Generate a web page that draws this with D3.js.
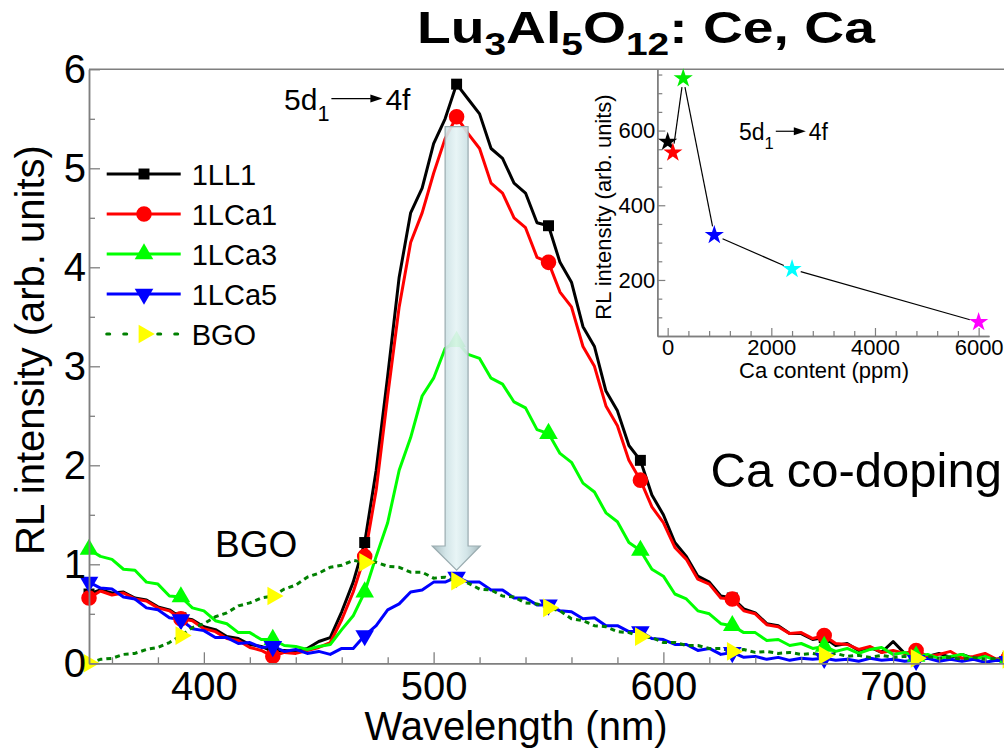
<!DOCTYPE html>
<html>
<head>
<meta charset="utf-8">
<script src="https://cdn.jsdelivr.net/npm/d3@7"></script>
<style>
  body { margin: 0; background: #fff; }
  svg { display: block; font-family: "Liberation Sans", Arial, sans-serif; }
</style>
</head>
<body>
<div id="scene"></div>
<script>
// wavelength grid (nm) for all spectra
const wavelength = d3.range(350, 751, 5);

const ll1 = [0.70,0.74,0.71,0.72,0.66,0.64,0.57,0.54,0.46,0.44,0.37,0.34,0.27,0.25,0.19,0.17,0.12,0.13,0.12,0.15,
  0.22,0.26,0.52,0.82,1.22,1.95,2.90,3.90,4.55,4.80,5.25,5.50,5.85,5.70,5.55,5.20,5.10,4.85,4.75,4.45,
  4.42,4.05,3.85,3.40,3.20,2.75,2.55,2.20,2.05,1.70,1.50,1.22,1.08,0.88,0.82,0.68,0.66,0.55,0.51,0.40,
  0.38,0.30,0.30,0.24,0.26,0.18,0.20,0.13,0.16,0.11,0.22,0.10,0.12,0.07,0.10,0.06,0.09,0.05,0.08,0.04,0.06];

const lca1 = [0.66,0.73,0.69,0.71,0.65,0.63,0.56,0.53,0.45,0.43,0.35,0.32,0.25,0.23,0.16,0.13,0.07,0.11,0.10,0.13,
  0.16,0.21,0.44,0.72,1.08,1.75,2.70,3.60,4.25,4.55,4.95,5.30,5.52,5.35,5.20,4.85,4.75,4.50,4.40,4.10,
  4.05,3.75,3.60,3.20,3.00,2.60,2.40,2.05,1.85,1.58,1.42,1.17,1.05,0.85,0.80,0.66,0.65,0.53,0.50,0.39,
  0.37,0.30,0.31,0.25,0.28,0.20,0.19,0.14,0.17,0.11,0.13,0.10,0.13,0.07,0.09,0.12,0.05,0.07,0.10,0.04,0.05];

const lca3 = [1.15,1.08,1.05,0.95,0.94,0.82,0.80,0.68,0.67,0.56,0.53,0.43,0.40,0.31,0.31,0.24,0.24,0.18,0.17,0.14,
  0.17,0.19,0.34,0.48,0.72,1.08,1.42,1.95,2.28,2.70,2.88,3.18,3.25,3.12,3.08,2.88,2.82,2.64,2.58,2.36,
  2.32,2.12,2.03,1.82,1.73,1.52,1.43,1.22,1.14,0.95,0.88,0.70,0.65,0.53,0.50,0.40,0.38,0.31,0.31,0.23,
  0.24,0.18,0.20,0.15,0.17,0.12,0.15,0.10,0.14,0.16,0.09,0.11,0.07,0.09,0.05,0.07,0.09,0.04,0.07,0.03,0.05];

const lca5 = [0.82,0.76,0.75,0.67,0.65,0.56,0.54,0.46,0.44,0.35,0.33,0.26,0.26,0.20,0.21,0.16,0.17,0.12,0.14,0.10,
  0.12,0.09,0.15,0.15,0.28,0.38,0.54,0.60,0.72,0.74,0.82,0.82,0.87,0.82,0.82,0.74,0.74,0.66,0.66,0.59,
  0.59,0.53,0.52,0.45,0.46,0.38,0.38,0.32,0.32,0.25,0.24,0.19,0.19,0.13,0.15,0.09,0.11,0.06,0.07,0.04,
  0.06,0.03,0.05,0.04,0.05,0.03,0.04,0.02,0.05,0.03,0.04,0.02,0.03,0.05,0.02,0.04,0.02,0.04,0.01,0.03,0.02];

const bgo = [0.00,0.04,0.05,0.09,0.10,0.14,0.16,0.21,0.28,0.36,0.40,0.47,0.51,0.58,0.61,0.66,0.68,0.75,0.79,0.87,
  0.91,0.97,0.99,1.04,1.02,1.02,0.98,0.97,0.92,0.92,0.86,0.87,0.83,0.81,0.75,0.74,0.68,0.67,0.61,0.60,
  0.56,0.53,0.45,0.43,0.38,0.37,0.32,0.31,0.27,0.26,0.21,0.21,0.18,0.18,0.15,0.15,0.12,0.14,0.11,0.12,
  0.10,0.11,0.09,0.10,0.08,0.10,0.07,0.08,0.06,0.08,0.06,0.07,0.05,0.07,0.05,0.06,0.04,0.06,0.04,0.05,0.04];

const seriesNames = ["1LL1", "1LCa1", "1LCa3", "1LCa5", "BGO"];
const seriesValues = [ll1, lca1, lca3, lca5, bgo];

// inset: peak intensity vs Ca content
const caContent = [0, 100, 300, 900, 2400, 6000];
const caIntensity = [570, 541, 740, 320, 229, 87];
const caColors = ["#000000", "#ff0000", "#00ee00", "#0000ff", "#00ffff", "#ff00ff"];

const xTicks = [400, 500, 600, 700];
const yTicks = [0, 1, 2, 3, 4, 5, 6];
const insetXTicks = [0, 2000, 4000, 6000];
const insetYTicks = [200, 400, 600];

// styles per series
const styles = [
  { color: "#000000", marker: "square", dash: null },
  { color: "#ff0000", marker: "circle", dash: null },
  { color: "#00ff00", marker: "up", dash: null },
  { color: "#0000ff", marker: "down", dash: null },
  { color: "#008000", marker: "right", dash: "5,4", markerFill: "#ffff00" }
];

const svg = d3.select("#scene").append("svg")
  .attr("width", 1004)
  .attr("height", 750);

const x = d3.scaleLinear().domain([350, 750]).range([89, 1008]);
const y = d3.scaleLinear().domain([0, 6]).range([663.3, 69.3]);

const axisGrey = "#7f7f7f";

const defs = svg.append("defs");
const grad = defs.append("linearGradient").attr("id", "arrowGrad")
  .attr("x1", "0%").attr("x2", "100%").attr("y1", "0%").attr("y2", "0%");
[["0%", "#9fb4b9"], ["28%", "#cfe3e6"], ["50%", "#e6f4f5"], ["72%", "#cfe3e6"], ["100%", "#9fb4b9"]]
  .forEach(s => grad.append("stop").attr("offset", s[0]).attr("stop-color", s[1]));

function markerPath(kind, size) {
  const t = {
    square: d3.symbolSquare, circle: d3.symbolCircle,
    up: d3.symbolTriangle, down: d3.symbolTriangle, right: d3.symbolTriangle
  }[kind];
  return d3.symbol(t).size(size)();
}
function markerRotate(kind) {
  if (kind === "down") return " rotate(180)";
  if (kind === "right") return " rotate(90)";
  return "";
}
function markerSize(kind) {
  if (kind === "square") return 120;
  if (kind === "circle") return 190;
  return 150;
}

// spectra
const plot = svg.append("g");
const line = d3.line().x(d => x(d[0])).y(d => y(d[1]));

seriesValues.forEach((vals, i) => {
  const st = styles[i];
  const pts = wavelength.map((w, j) => [w, vals[j]]);
  plot.append("path")
    .datum(pts)
    .attr("d", line)
    .style("fill", "none")
    .style("stroke", st.color)
    .style("stroke-width", 3)
    .style("stroke-linejoin", "round")
    .style("stroke-dasharray", st.dash);
});

// markers every 40 nm, drawn after all lines
seriesValues.forEach((vals, i) => {
  const st = styles[i];
  const pts = wavelength.map((w, j) => [w, vals[j]]).filter(d => (d[0] - 350) % 40 === 0);
  plot.selectAll(null)
    .data(pts)
    .enter().append("path")
    .attr("d", markerPath(st.marker, markerSize(st.marker)))
    .attr("transform", d => `translate(${x(d[0])},${y(d[1])})` + markerRotate(st.marker))
    .style("fill", st.markerFill || st.color);
});

// big grey arrow 5d1 -> 4f peak drop
const arrowPts = [[505, 5.42], [515, 5.42], [515, 1.185], [520.3, 1.185], [510, 0.94], [499.4, 1.185], [505, 1.185]];
svg.append("path")
  .attr("d", d3.line().x(d => x(d[0])).y(d => y(d[1])).curve(d3.curveLinearClosed)(arrowPts))
  .style("fill", "url(#arrowGrad)")
  .style("fill-opacity", 0.92)
  .style("stroke", "#9aacb0")
  .style("stroke-width", 1.2);

// axes
const xAxis = svg.append("g")
  .attr("transform", `translate(0,${y(0)})`)
  .call(d3.axisBottom(x).tickValues(xTicks).tickSize(-11).tickSizeOuter(0).tickPadding(8).tickFormat(d3.format("d")));
const xMinor = svg.append("g")
  .attr("transform", `translate(0,${y(0)})`)
  .call(d3.axisBottom(x).tickValues(d3.range(360, 750, 20).filter(v => v % 100 !== 0)).tickSize(-6).tickSizeOuter(0).tickFormat(""));
const yAxis = svg.append("g")
  .attr("transform", `translate(${x(350)},0)`)
  .call(d3.axisLeft(y).tickValues(yTicks).tickSize(-11).tickSizeOuter(0).tickPadding(3).tickFormat(d3.format("d")));
const yMinor = svg.append("g")
  .attr("transform", `translate(${x(350)},0)`)
  .call(d3.axisLeft(y).tickValues([0.5, 1.5, 2.5, 3.5, 4.5, 5.5]).tickSize(-6).tickSizeOuter(0).tickFormat(""));

[xAxis, xMinor, yAxis, yMinor].forEach(g => {
  g.select(".domain").style("stroke", axisGrey).style("stroke-width", 1.5);
  g.selectAll(".tick line").style("stroke", axisGrey).style("stroke-width", 1.3);
  g.selectAll(".tick text").style("font-size", "40px").style("fill", "#000")
    .style("font-family", "'Liberation Sans', Arial, sans-serif");
});

// top frame line
svg.append("line")
  .attr("x1", x(350)).attr("x2", 1004)
  .attr("y1", y(6)).attr("y2", y(6))
  .style("stroke", axisGrey).style("stroke-width", 1.5);

svg.append("text")
  .attr("x", 516).attr("y", 740)
  .style("text-anchor", "middle")
  .style("font-size", "40px")
  .text("Wavelength (nm)");

svg.append("text")
  .attr("transform", "translate(44,350) rotate(-90)")
  .style("text-anchor", "middle")
  .style("font-size", "40px")
  .text("RL intensity (arb. units)");

// legend
const legend = svg.append("g");
seriesNames.forEach((name, i) => {
  const st = styles[i];
  const row = legend.append("g").attr("transform", `translate(0,${174 + i * 40})`);
  row.append("line")
    .attr("x1", 106.7).attr("x2", 180.7)
    .style("stroke", st.color)
    .style("stroke-width", 3)
    .style("stroke-dasharray", st.dash ? "3,14" : null)
    .style("stroke-linecap", st.dash ? "round" : "butt");
  row.append("path")
    .attr("d", markerPath(st.marker, markerSize(st.marker)))
    .attr("transform", "translate(144,0)" + markerRotate(st.marker))
    .style("fill", st.markerFill || st.color);
  row.append("text")
    .attr("x", 191.7).attr("y", 10.5)
    .style("font-size", "29px")
    .text(name);
});

// annotations
svg.append("text")
  .attr("x", 215).attr("y", 557)
  .style("font-size", "37px")
  .text("BGO");

svg.append("text")
  .attr("x", 1002).attr("y", 487)
  .style("text-anchor", "end")
  .style("font-size", "49px")
  .text("Ca co-doping");

function transitionLabel(g, x0, base, fs, arrowLen) {
  const t = g.append("text").attr("x", x0).attr("y", base).style("font-size", fs + "px");
  t.append("tspan").text("5d");
  t.append("tspan").attr("dy", fs * 0.38).style("font-size", (fs * 0.72) + "px").text("1");
  const w = t.node().getComputedTextLength();
  const ay = base - fs * 0.38;
  g.append("line")
    .attr("x1", x0 + w + 2).attr("x2", x0 + w + arrowLen - 8)
    .attr("y1", ay).attr("y2", ay)
    .style("stroke", "#000").style("stroke-width", 1.2);
  g.append("path")
    .attr("d", `M${x0 + w + arrowLen},${ay} l-12,-4 l0,8 z`)
    .style("fill", "#000");
  g.append("text").attr("x", x0 + w + arrowLen + 3).attr("y", base)
    .style("font-size", fs + "px").text("4f");
}
transitionLabel(svg.append("g"), 284, 110, 30, 53);

// title
const title = svg.append("text")
  .attr("x", 0).attr("y", 0)
  .style("font-size", "44px")
  .style("font-weight", "bold");
[["Lu", 0], ["3", 1], ["Al", 0], ["5", 1], ["O", 0], ["12", 1], [": Ce, Ca", 0]].forEach((p, i, arr) => {
  const prevSub = i > 0 && arr[i - 1][1];
  title.append("tspan")
    .attr("dy", p[1] ? 12 : (prevSub ? -12 : null))
    .style("font-size", p[1] ? "31px" : null)
    .text(p[0]);
});
const titleW = title.node().getComputedTextLength();
title.attr("transform", `translate(417,43) scale(${458 / titleW},1)`);

// inset
const ix = d3.scaleLinear().domain([-200, 6200]).range([657.3, 989]);
const iy = d3.scaleLinear().domain([50, 764]).range([336, 69.3]);
const inset = svg.append("g");

const ixAxis = inset.append("g")
  .attr("transform", `translate(0,${iy(50)})`)
  .call(d3.axisBottom(ix).tickValues(insetXTicks).tickSize(-8).tickSizeOuter(0).tickPadding(3).tickFormat(d3.format("d")));
const ixMinor = inset.append("g")
  .attr("transform", `translate(0,${iy(50)})`)
  .call(d3.axisBottom(ix).tickValues(d3.range(400, 6200, 400).filter(v => v % 2000 !== 0)).tickSize(-5).tickSizeOuter(0).tickFormat(""));
const iyAxis = inset.append("g")
  .attr("transform", `translate(${ix(-200)},0)`)
  .call(d3.axisLeft(iy).tickValues(insetYTicks).tickSize(-8).tickSizeOuter(0).tickPadding(2).tickFormat(d3.format("d")));
const iyMinor = inset.append("g")
  .attr("transform", `translate(${ix(-200)},0)`)
  .call(d3.axisLeft(iy).tickValues(d3.range(100, 760, 50).filter(v => v % 200 !== 0)).tickSize(-5).tickSizeOuter(0).tickFormat(""));
[ixAxis, ixMinor, iyAxis, iyMinor].forEach(g => {
  g.select(".domain").style("stroke", axisGrey).style("stroke-width", 1.5);
  g.selectAll(".tick line").style("stroke", axisGrey).style("stroke-width", 1.2);
  g.selectAll(".tick text").style("font-size", "22px").style("fill", "#000")
    .style("font-family", "'Liberation Sans', Arial, sans-serif");
});

inset.append("text")
  .attr("x", 824).attr("y", 378)
  .style("text-anchor", "middle")
  .style("font-size", "22px")
  .text("Ca content (ppm)");
inset.append("text")
  .attr("transform", "translate(611,207) rotate(-90)")
  .style("text-anchor", "middle")
  .style("font-size", "22px")
  .text("RL intensity (arb. units)");

// connecting line with gaps at the stars
const ipts = caContent.map((c, i) => [ix(c), iy(caIntensity[i])]);
for (let i = 0; i < ipts.length - 1; i++) {
  const [x0, y0] = ipts[i], [x1, y1] = ipts[i + 1];
  const len = Math.hypot(x1 - x0, y1 - y0);
  const gap = 9;
  if (len <= 2 * gap) continue;
  const ux = (x1 - x0) / len, uy = (y1 - y0) / len;
  inset.append("line")
    .attr("x1", x0 + ux * gap).attr("y1", y0 + uy * gap)
    .attr("x2", x1 - ux * gap).attr("y2", y1 - uy * gap)
    .style("stroke", "#000").style("stroke-width", 1.2);
}
inset.selectAll(null)
  .data(caContent.map((c, i) => ({ c: c, v: caIntensity[i], col: caColors[i] })))
  .enter().append("path")
  .attr("d", d3.symbol(d3.symbolStar).size(115)())
  .attr("transform", d => `translate(${ix(d.c)},${iy(d.v)})`)
  .style("fill", d => d.col);

transitionLabel(inset.append("g"), 739, 140, 23, 32);
</script>
</body>
</html>
